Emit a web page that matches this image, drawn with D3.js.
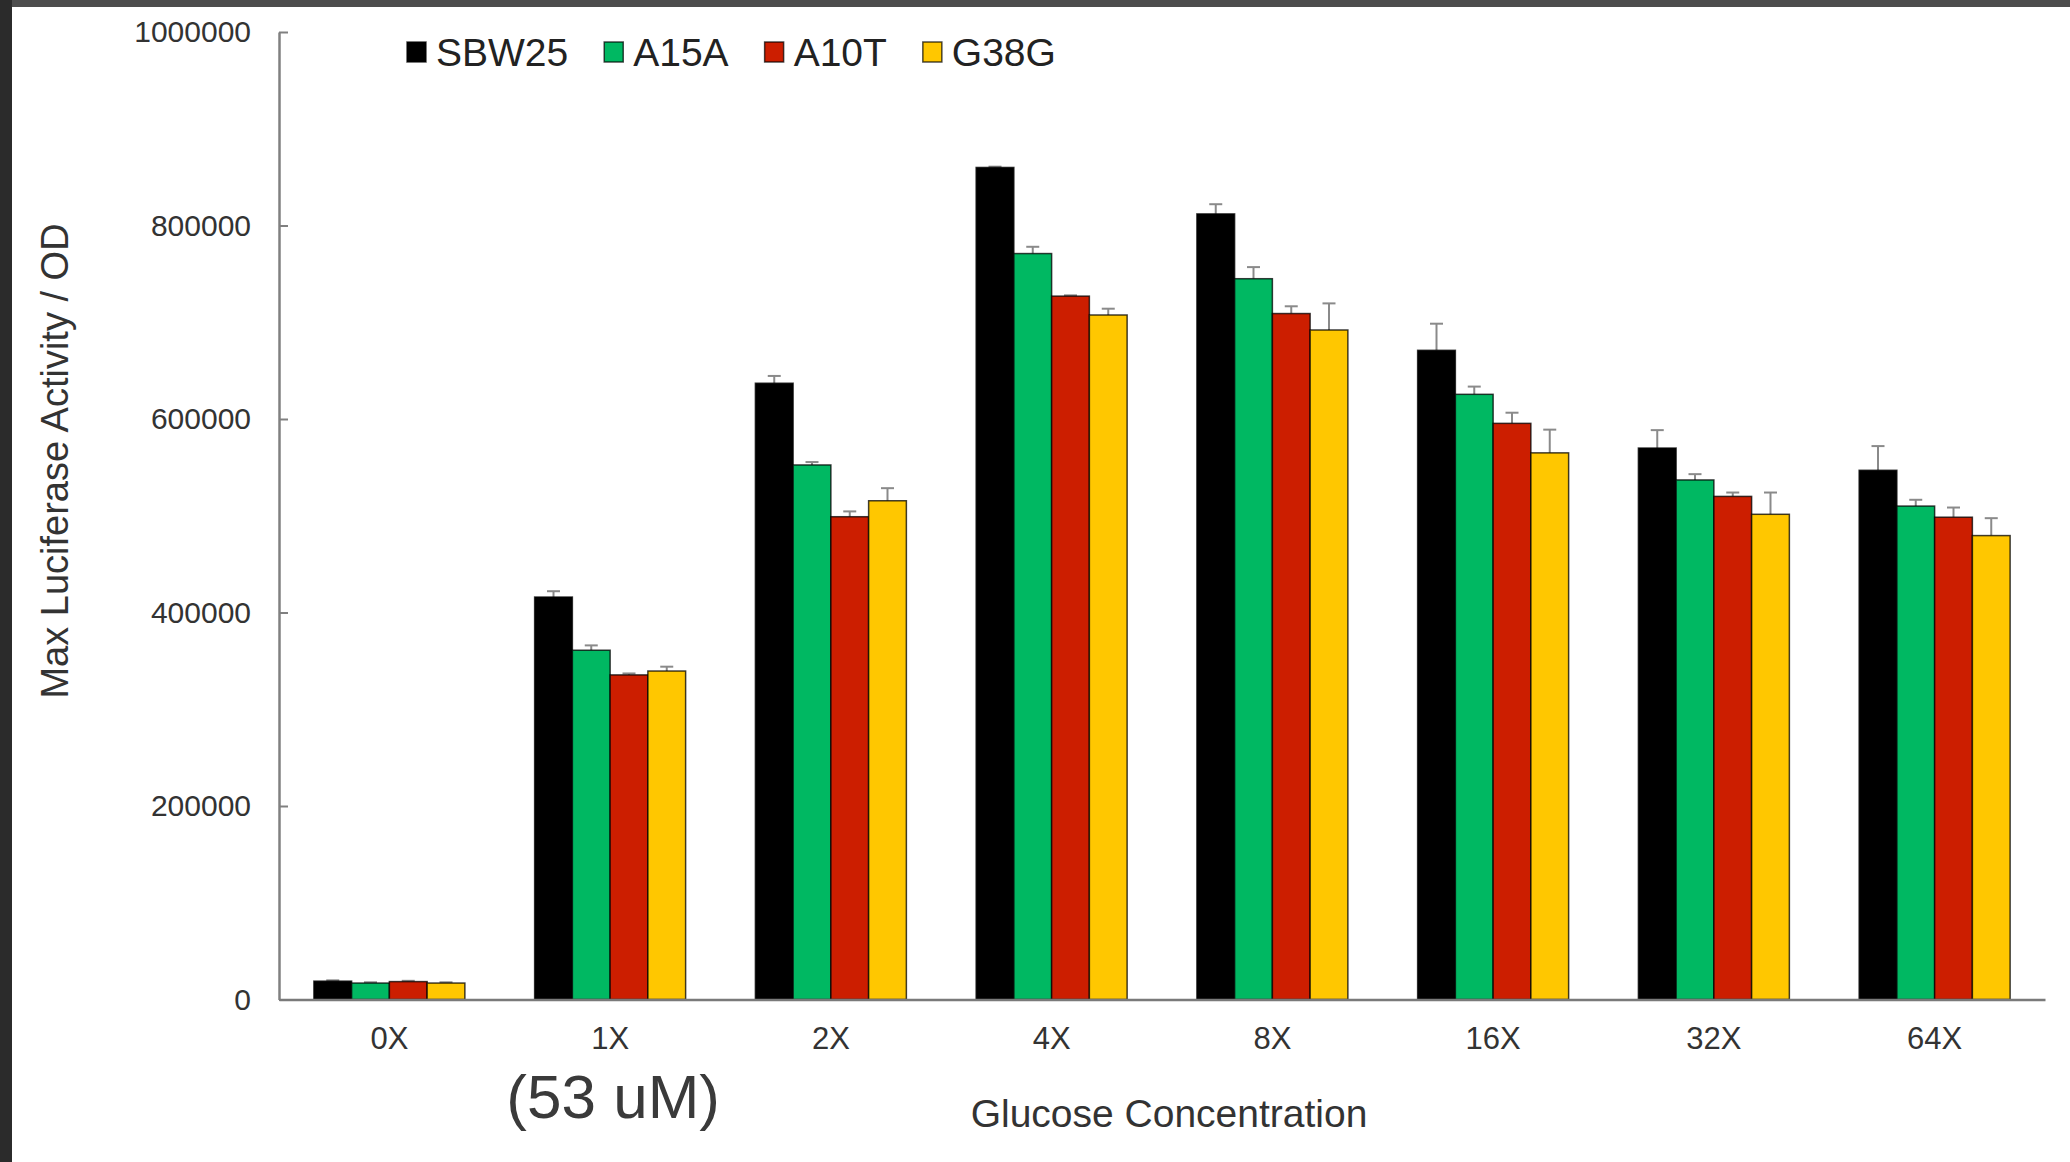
<!DOCTYPE html>
<html>
<head>
<meta charset="utf-8">
<script src="https://cdn.jsdelivr.net/npm/d3@7"></script>
<style>
  html, body { margin: 0; padding: 0; background: #fff; }
  text { font-family: "Liberation Sans", Arial, sans-serif; }
</style>
</head>
<body>
<div id="chart"></div>
<script>
// glucose levels on the x axis
var categories = ["0X", "1X", "2X", "4X", "8X", "16X", "32X", "64X"];
var seriesNames = ["SBW25", "A15A", "A10T", "G38G"];

// bar heights
var sbw25 = [19000, 416000, 637000, 860000, 812000, 671000, 570000, 547000];
var a15a  = [17000, 361000, 552500, 771000, 745000, 625500, 537000, 510000];
var a10t  = [18500, 335500, 499000, 727000, 709000, 595500, 520000, 498500];
var g38g  = [17000, 339500, 515500, 707500, 692000, 565000, 501500, 479500];

// upper error bars
var sbw25Err = [800, 6000, 7500, 800, 10000, 27500, 18500, 25000];
var a15aErr  = [800, 5000, 3000, 7000, 12000, 8000, 6000, 6500];
var a10tErr  = [800, 1500, 5500, 800, 7500, 11000, 4000, 10000];
var g38gErr  = [800, 4500, 13000, 6500, 27500, 24000, 22500, 18000];

var yTicks = [0, 200000, 400000, 600000, 800000, 1000000];

var colors = ["#000000", "#00b862", "#cc1e00", "#ffc700"];

var values = [sbw25, a15a, a10t, g38g];
var errors = [sbw25Err, a15aErr, a10tErr, g38gErr];

var width = 2070,
    height = 1162;

var svg = d3.select("#chart").append("svg")
    .attr("width", width)
    .attr("height", height);

// slide background with dark edges
svg.append("rect").attr("width", width).attr("height", height).attr("fill", "#fff");
svg.append("rect").attr("width", width).attr("height", 7).attr("fill", "#4d4d4d");
svg.append("rect").attr("width", 12).attr("height", height).attr("fill", "#2b2b2b");

var x0 = d3.scaleBand()
    .domain(categories)
    .range([279, 2045])
    .paddingInner(0.316)
    .paddingOuter(0.158);

var x1 = d3.scaleBand()
    .domain(seriesNames)
    .range([0, x0.bandwidth()]);

var y = d3.scaleLinear()
    .domain([0, 1000000])
    .range([999.5, 32]);

var color = d3.scaleOrdinal().domain(seriesNames).range(colors);

// flatten into one row per bar
var rows = [];
categories.forEach(function(c, i) {
  seriesNames.forEach(function(s, j) {
    rows.push({ cat: c, series: s, value: values[j][i], err: errors[j][i] });
  });
});

// error bars (drawn behind the bars, only the upper half shows)
var eb = svg.append("g").attr("class", "errors")
    .attr("stroke", "#8a8a8a")
    .attr("stroke-width", 2)
  .selectAll("g")
    .data(rows)
  .enter().append("g");

eb.append("line")
    .attr("x1", function(d) { return x0(d.cat) + x1(d.series) + x1.bandwidth() / 2; })
    .attr("x2", function(d) { return x0(d.cat) + x1(d.series) + x1.bandwidth() / 2; })
    .attr("y1", function(d) { return y(d.value); })
    .attr("y2", function(d) { return y(d.value + d.err); });

eb.append("line")
    .attr("x1", function(d) { return x0(d.cat) + x1(d.series) + x1.bandwidth() / 2 - 6.5; })
    .attr("x2", function(d) { return x0(d.cat) + x1(d.series) + x1.bandwidth() / 2 + 6.5; })
    .attr("y1", function(d) { return y(d.value + d.err); })
    .attr("y2", function(d) { return y(d.value + d.err); });

// bars
svg.append("g").attr("class", "bars")
  .selectAll("rect")
    .data(rows)
  .enter().append("rect")
    .attr("x", function(d) { return x0(d.cat) + x1(d.series); })
    .attr("y", function(d) { return y(d.value); })
    .attr("width", x1.bandwidth())
    .attr("height", function(d) { return y(0) - y(d.value); })
    .attr("fill", function(d) { return color(d.series); })
    .attr("stroke", "rgba(0,0,0,0.75)")
    .attr("stroke-width", 1.5);

// y axis, ticks point inward
var yAxis = svg.append("g")
    .attr("transform", "translate(279,0)")
    .call(d3.axisLeft(y).tickValues(yTicks).tickFormat(d3.format("d"))
      .tickSizeInner(-9).tickSizeOuter(0).tickPadding(28));

yAxis.select(".domain").attr("stroke", "#808080").attr("stroke-width", 2.5);
yAxis.selectAll(".tick line").attr("stroke", "#808080").attr("stroke-width", 2);
yAxis.selectAll(".tick text")
    .attr("fill", "#333")
    .style("font-size", "30px");

// x axis, no tick marks
var xAxis = svg.append("g")
    .attr("transform", "translate(0,999.5)")
    .call(d3.axisBottom(x0).tickSize(0).tickPadding(27));

xAxis.select(".domain").attr("stroke", "#7a7a7a").attr("stroke-width", 2.5);
xAxis.selectAll(".tick text")
    .attr("fill", "#333")
    .style("font-size", "31px");

// axis titles
svg.append("text")
    .attr("transform", "translate(68,461) rotate(-90)")
    .attr("text-anchor", "middle")
    .attr("fill", "#333")
    .style("font-size", "38px")
    .text("Max Luciferase Activity / OD");

svg.append("text")
    .attr("x", 1169)
    .attr("y", 1127)
    .attr("text-anchor", "middle")
    .attr("fill", "#333")
    .style("font-size", "39px")
    .text("Glucose Concentration");

svg.append("text")
    .attr("x", x0("1X") + x0.bandwidth() / 2 + 3)
    .attr("y", 1118)
    .attr("text-anchor", "middle")
    .attr("fill", "#3a3a3a")
    .style("font-size", "62px")
    .text("(53 uM)");

// legend
var legend = svg.append("g").attr("class", "legend");
var lx = 407;
seriesNames.forEach(function(s) {
  legend.append("rect")
      .attr("x", lx).attr("y", 42)
      .attr("width", 19).attr("height", 20)
      .attr("fill", color(s))
      .attr("stroke", "rgba(0,0,0,0.7)")
      .attr("stroke-width", 1.5);
  var t = legend.append("text")
      .attr("x", lx + 29).attr("y", 66)
      .attr("fill", "#222")
      .style("font-size", "39px")
      .text(s);
  lx = lx + 29 + t.node().getComputedTextLength() + 36;
});
</script>
</body>
</html>
